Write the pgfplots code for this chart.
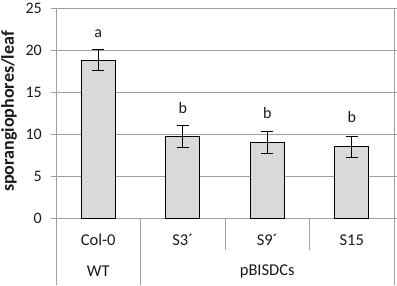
\documentclass[border=0pt]{standalone}
\usepackage{fontspec}
\setmainfont{Carlito}
\usepackage{pgfplots}
\pgfplotsset{compat=1.18}
\definecolor{gridgray}{HTML}{A0A0A0}
\definecolor{barfill}{HTML}{D9D9D9}
\definecolor{txt}{HTML}{1A1A1A}
\begin{document}
\begin{tikzpicture}[x=1pt,y=1pt]
\path[use as bounding box] (0,0) rectangle (397,285);
\begin{axis}[
  at={(56pt,67pt)}, anchor=south west,
  scale only axis, width=338pt, height=210pt,
  xmin=-0.5, xmax=3.5, ymin=0, ymax=25,
  ytick={0,5,10,15,20,25},
  xtick=\empty,
  ymajorgrids, grid style={gridgray, line width=0.8pt},
  axis line style={gridgray, line width=0.8pt},
  tick align=outside, major tick length=5pt,
  ytick style={gridgray, line width=0.8pt},
  yticklabel style={font=\fontsize{16}{18}\selectfont, text=txt, inner sep=0pt, xshift=-9pt},
  /pgf/number format/assume math mode=true,
  clip=false,
]
\addplot[ybar, bar width=34pt, fill=barfill, draw=black, line width=1pt,
  error bars/.cd, y dir=both, y explicit,
  error bar style={line width=1pt, black},
  error mark options={rotate=90, mark size=6pt, line width=1pt, black}]
  coordinates {
    (0,18.8) +- (0,1.25)
    (1,9.7)  +- (0,1.35)
    (2,9.0)  +- (0,1.3)
    (3,8.5)  +- (0,1.25)
  };
\node[font=\fontsize{16}{18}\selectfont, text=txt] at (axis cs:0,21.9) {a};
\node[font=\fontsize{16}{18}\selectfont, text=txt] at (axis cs:1,13.1) {b};
\node[font=\fontsize{16}{18}\selectfont, text=txt] at (axis cs:2,12.5) {b};
\node[font=\fontsize{16}{18}\selectfont, text=txt] at (axis cs:3,12.0) {b};
% separators below axis
\draw[gridgray, line width=0.8pt] (axis cs:-0.5,0) -- ([yshift=-67pt]axis cs:-0.5,0);
\draw[gridgray, line width=0.8pt] (axis cs:3.5,0) -- ([yshift=-67pt]axis cs:3.5,0);
\draw[gridgray, line width=0.8pt] (axis cs:0.5,0) -- ([yshift=-67pt]axis cs:0.5,0);
\draw[gridgray, line width=0.8pt] (axis cs:1.5,0) -- ([yshift=-32pt]axis cs:1.5,0);
\draw[gridgray, line width=0.8pt] (axis cs:2.5,0) -- ([yshift=-32pt]axis cs:2.5,0);
% category labels
\node[font=\fontsize{16.5}{18}\selectfont, text=txt] at ([yshift=-22pt]axis cs:0,0) {Col-0};
\node[font=\fontsize{16.5}{18}\selectfont, text=txt] at ([yshift=-22pt]axis cs:1,0) {S3´};
\node[font=\fontsize{16.5}{18}\selectfont, text=txt] at ([yshift=-22pt]axis cs:2,0) {S9´};
\node[font=\fontsize{16.5}{18}\selectfont, text=txt] at ([yshift=-22pt]axis cs:3,0) {S15};
\node[font=\fontsize{16.5}{18}\selectfont, text=txt] at ([yshift=-53pt]axis cs:0,0) {WT};
\node[font=\fontsize{16.5}{18}\selectfont, text=txt] at ([yshift=-53pt]axis cs:2,0) {pBISDCs};
\end{axis}
\node[rotate=90, font=\bfseries\fontsize{18}{20}\selectfont, text=txt] at (9,173.5) {sporangiophores/leaf};
\end{tikzpicture}
\end{document}
